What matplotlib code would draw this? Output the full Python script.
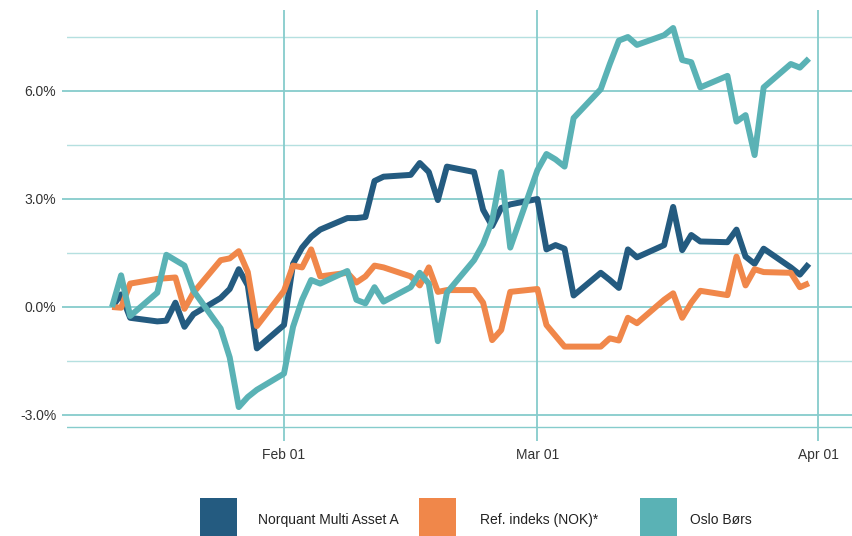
import matplotlib
matplotlib.use("Agg")
import matplotlib.pyplot as plt
import matplotlib.dates as mdates
from matplotlib.patches import Rectangle
import pandas as pd

plt.rcParams['font.family'] = ['Liberation Sans', 'DejaVu Sans']

dates = pd.to_datetime([
    "2021-01-13", "2021-01-14", "2021-01-15", "2021-01-18", "2021-01-19", "2021-01-20",
    "2021-01-21", "2021-01-22", "2021-01-25", "2021-01-26", "2021-01-27", "2021-01-28",
    "2021-01-29", "2021-02-01", "2021-02-02", "2021-02-03", "2021-02-04", "2021-02-05",
    "2021-02-08", "2021-02-09", "2021-02-10", "2021-02-11", "2021-02-12", "2021-02-15",
    "2021-02-16", "2021-02-17", "2021-02-18", "2021-02-19", "2021-02-22", "2021-02-23",
    "2021-02-24", "2021-02-25", "2021-02-26", "2021-03-01", "2021-03-02", "2021-03-03",
    "2021-03-04", "2021-03-05", "2021-03-08", "2021-03-09", "2021-03-10", "2021-03-11",
    "2021-03-12", "2021-03-15", "2021-03-16", "2021-03-17", "2021-03-18", "2021-03-19",
    "2021-03-22", "2021-03-23", "2021-03-24", "2021-03-25", "2021-03-26", "2021-03-29",
    "2021-03-30", "2021-03-31"])

norquant = [0.0, 0.35, -0.3, -0.4, -0.38, 0.12, -0.55, -0.2, 0.25, 0.5, 1.05, 0.6,
            -1.15, -0.5, 1.2, 1.65, 1.95, 2.15, 2.47, 2.47, 2.5, 3.5, 3.62, 3.67,
            4.0, 3.75, 2.97, 3.9, 3.75, 2.7, 2.25, 2.75, 2.85, 3.0, 1.6, 1.72,
            1.62, 0.32, 0.95, 0.75, 0.53, 1.6, 1.38, 1.72, 2.78, 1.58, 2.0, 1.82,
            1.8, 2.15, 1.4, 1.2, 1.62, 1.1, 0.9, 1.2]

ref_index = [0.0, -0.02, 0.65, 0.78, 0.8, 0.82, -0.05, 0.4, 1.3, 1.35, 1.55, 0.97,
             -0.53, 0.45, 1.15, 1.1, 1.6, 0.85, 0.95, 0.68, 0.85, 1.15, 1.1, 0.85,
             0.6, 1.1, 0.42, 0.47, 0.47, 0.12, -0.92, -0.64, 0.42, 0.5, -0.5, -0.8,
             -1.1, -1.1, -1.1, -0.87, -0.93, -0.3, -0.45, 0.2, 0.38, -0.3, 0.12, 0.45,
             0.33, 1.4, 0.6, 1.05, 0.97, 0.95, 0.55, 0.66]

oslo = [0.0, 0.88, -0.25, 0.4, 1.45, 1.3, 1.15, 0.45, -0.6, -1.4, -2.78, -2.5,
        -2.3, -1.85, -0.55, 0.2, 0.75, 0.65, 1.0, 0.2, 0.1, 0.55, 0.15, 0.55,
        0.95, 0.65, -0.95, 0.4, 1.3, 1.75, 2.4, 3.75, 1.65, 3.8, 4.25, 4.1,
        3.9, 5.25, 6.05, 6.75, 7.4, 7.5, 7.28, 7.55, 7.75, 6.86, 6.8, 6.1,
        6.42, 5.15, 5.33, 4.22, 6.1, 6.75, 6.65, 6.9]

series_names = ["Norquant Multi Asset A", "Ref. indeks (NOK)*", "Oslo Børs"]
series_colors = ["#245b80", "#f0874a", "#5ab2b5"]

y_major = [-3.0, 0.0, 3.0, 6.0]
y_major_labels = ["-3.0%", "0.0%", "3.0%", "6.0%"]
y_minor = [-10 / 3, -1.5, 1.5, 4.5, 7.5]
x_ticks = pd.to_datetime(["2021-02-01", "2021-03-01", "2021-04-01"])
x_tick_labels = ["Feb 01", "Mar 01", "Apr 01"]

W, H = 852, 536
fig = plt.figure(figsize=(W / 100, H / 100), dpi=100)
ax = fig.add_axes([67 / W, (H - 441) / H, (W - 67) / W, (441 - 10) / H])

major_c = "#86cccc"
minor_c = "#b5e0e0"

feb1 = mdates.date2num(pd.Timestamp("2021-02-01"))
ppd = 9.05
ax.set_xlim(feb1 - 217 / ppd, feb1 + (W - 284) / ppd)
ax.set_ylim((307 - 441) / 36, (307 - 10) / 36)

for v in y_minor:
    ax.axhline(v, color=minor_c if v > -3.2 else major_c, lw=1.0, zorder=1)
for v in y_major:
    ax.axhline(v, color=major_c, lw=1.3, zorder=1)
for d in x_ticks:
    ax.axvline(mdates.date2num(d), color=major_c, lw=1.3, zorder=1)

for vals, c in zip([norquant, ref_index, oslo], series_colors):
    ax.plot(dates, vals, color=c, lw=4.3, solid_joinstyle='round',
            solid_capstyle='butt', zorder=3)

ax.set_yticks(y_major)
ax.set_yticklabels(y_major_labels)
ax.set_xticks(x_ticks)
ax.set_xticklabels(x_tick_labels)
ax.tick_params(axis='y', length=3.8, width=1.3, color=major_c, pad=4,
               labelsize=10, labelcolor="#333333")
ax.tick_params(axis='x', length=0, pad=5, labelsize=10, labelcolor="#333333")
for s in ax.spines.values():
    s.set_visible(False)

# legend
leg_sq_x = [200, 419, 640]
leg_txt_x = [258, 480, 690]
for sx, tx, name, c in zip(leg_sq_x, leg_txt_x, series_names, series_colors):
    fig.patches.append(Rectangle((sx / W, 0), 37 / W, 38 / H, transform=fig.transFigure,
                                 facecolor=c, edgecolor='none'))
    fig.text(tx / W, (H - 520) / H, name, ha='left', va='center', fontsize=10,
             color="#222222")

fig.savefig("out.png", dpi=100)
